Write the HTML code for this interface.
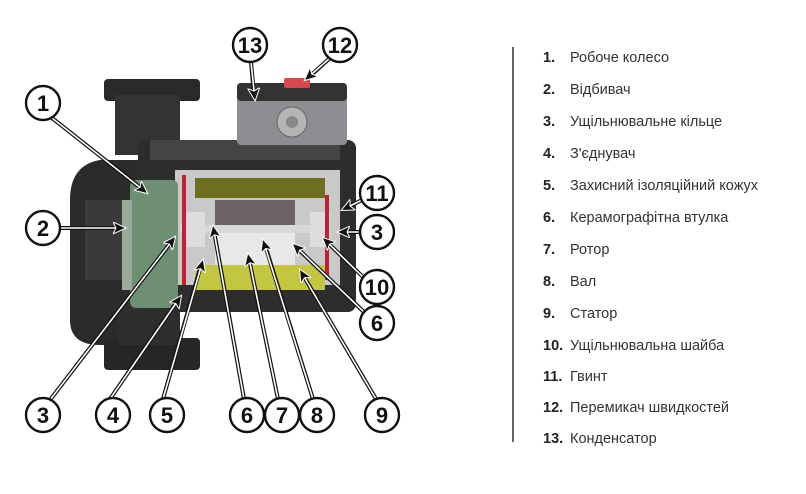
<!DOCTYPE html>
<html><head><meta charset="utf-8"><style>
html,body{margin:0;padding:0;background:#fff;width:806px;height:494px;overflow:hidden}
svg{display:block}
.lg{font-family:"Liberation Sans",sans-serif;font-size:14.5px;fill:#333}
.lg tspan.n{font-weight:bold;fill:#222}
.c circle{fill:#fff;stroke:#111;stroke-width:2.4}
.c text{font-family:"Liberation Sans",sans-serif;font-weight:bold;font-size:22px;fill:#111;text-anchor:middle}
</style></head><body>
<svg width="806" height="494" viewBox="0 0 806 494" xmlns="http://www.w3.org/2000/svg">
<defs>
<marker id="ah" markerWidth="14" markerHeight="14" refX="12" refY="6" orient="auto" markerUnits="userSpaceOnUse">
<path d="M0,0 L13,6 L0,12 L3,6 Z" fill="#111" stroke="#fff" stroke-width="1"/>
</marker>
</defs>
<!-- pump body -->
<rect x="104" y="79" width="96" height="22" rx="4" fill="#2a2a2a"/>
<rect x="115" y="95" width="65" height="60" fill="#333"/>
<path d="M100,160 Q70,165 70,200 L70,320 Q70,345 100,345 L145,345 L145,160 Z" fill="#2b2b2b"/>
<rect x="104" y="338" width="96" height="32" rx="4" fill="#262626"/>
<rect x="118" y="300" width="62" height="45" fill="#2e2e2e"/>
<rect x="85" y="200" width="45" height="80" fill="#3a3a3a"/>
<rect x="138" y="140" width="218" height="172" rx="8" fill="#2d2d2d"/>
<rect x="150" y="140" width="190" height="20" fill="#444"/>
<!-- terminal box -->
<rect x="237" y="83" width="110" height="62" rx="4" fill="#8e8e92"/>
<rect x="237" y="83" width="110" height="18" rx="4" fill="#333"/>
<circle cx="292" cy="122" r="15" fill="#b5b5b5" stroke="#666"/>
<circle cx="292" cy="122" r="6" fill="#888"/>
<rect x="284" y="78" width="26" height="10" rx="2" fill="#d9474f"/>
<!-- inner cavity -->
<rect x="175" y="170" width="165" height="115" fill="#c9c9c9"/>
<path d="M195,178 L325,178 L325,198 L195,198 Z" fill="#6e7020"/>
<path d="M195,265 L325,265 L325,290 L195,290 Z" fill="#c3c640"/>
<rect x="215" y="200" width="80" height="30" fill="#6a6264"/>
<rect x="215" y="230" width="80" height="35" fill="#e8e8e8"/>
<rect x="180" y="225" width="150" height="8" fill="#d8d8d8"/>
<rect x="185" y="212" width="20" height="35" fill="#ddd"/>
<rect x="310" y="212" width="20" height="35" fill="#ddd"/>
<rect x="182" y="175" width="4" height="110" fill="#c02030"/>
<rect x="325" y="195" width="4" height="85" fill="#c02030"/>
<!-- impeller -->
<rect x="130" y="180" width="48" height="128" rx="6" fill="#6f8f72"/>
<rect x="122" y="200" width="10" height="90" fill="#9aaa9c"/>
<!-- leaders -->
<g fill="none" stroke-linecap="round">
<g stroke="#111" stroke-width="4">
<path d="M52,118 L142,189"/><path d="M60,228 L120,228"/>
<path d="M251,62 L254,95"/><path d="M330,58 L309,77"/>
<path d="M362,200 L346,208"/><path d="M360,232 L343,232"/>
<path d="M364,278 L327,242"/><path d="M364,312 L297,248"/>
<path d="M376,399 L303,275"/><path d="M313,399 L265,245"/>
<path d="M278,399 L249,259"/><path d="M244,399 L214,231"/>
<path d="M163,399 L201,265"/><path d="M110,399 L178,300"/>
<path d="M50,400 L172,241"/>
</g>
<g stroke="#fff" stroke-width="1.6">
<path d="M52,118 L147,193" marker-end="url(#ah)"/><path d="M60,228 L125,228" marker-end="url(#ah)"/>
<path d="M251,62 L255,100" marker-end="url(#ah)"/><path d="M330,58 L305,80" marker-end="url(#ah)"/>
<path d="M362,200 L342,210" marker-end="url(#ah)"/><path d="M360,232 L338,232" marker-end="url(#ah)"/>
<path d="M364,278 L323,238" marker-end="url(#ah)"/><path d="M364,312 L293,244" marker-end="url(#ah)"/>
<path d="M376,399 L300,270" marker-end="url(#ah)"/><path d="M313,399 L263,240" marker-end="url(#ah)"/>
<path d="M278,399 L248,254" marker-end="url(#ah)"/><path d="M244,399 L213,226" marker-end="url(#ah)"/>
<path d="M163,399 L203,260" marker-end="url(#ah)"/><path d="M110,399 L181,296" marker-end="url(#ah)"/>
<path d="M50,400 L175,237" marker-end="url(#ah)"/>
</g>
</g>
<g class="c">
<circle cx="250" cy="45" r="17"/><text x="250" y="53">13</text>
<circle cx="340" cy="45" r="17"/><text x="340" y="53">12</text>
<circle cx="43" cy="103" r="17"/><text x="43" y="111">1</text>
<circle cx="43" cy="228" r="17"/><text x="43" y="236">2</text>
<circle cx="377" cy="193" r="17"/><text x="377" y="201">11</text>
<circle cx="377" cy="232" r="17"/><text x="377" y="240">3</text>
<circle cx="377" cy="287" r="17"/><text x="377" y="295">10</text>
<circle cx="377" cy="323" r="17"/><text x="377" y="331">6</text>
<circle cx="43" cy="415" r="17"/><text x="43" y="423">3</text>
<circle cx="113" cy="415" r="17"/><text x="113" y="423">4</text>
<circle cx="167" cy="415" r="17"/><text x="167" y="423">5</text>
<circle cx="247" cy="415" r="17"/><text x="247" y="423">6</text>
<circle cx="282" cy="415" r="17"/><text x="282" y="423">7</text>
<circle cx="317" cy="415" r="17"/><text x="317" y="423">8</text>
<circle cx="382" cy="415" r="17"/><text x="382" y="423">9</text>
</g>
<!-- legend -->
<line x1="513" y1="47" x2="513" y2="442" stroke="#333" stroke-width="1.5"/>
<g class="lg">
<text x="543" y="62"><tspan class="n">1.</tspan><tspan x="570">Робоче колесо</tspan></text>
<text x="543" y="94"><tspan class="n">2.</tspan><tspan x="570">Відбивач</tspan></text>
<text x="543" y="126"><tspan class="n">3.</tspan><tspan x="570">Ущільнювальне кільце</tspan></text>
<text x="543" y="158"><tspan class="n">4.</tspan><tspan x="570">З'єднувач</tspan></text>
<text x="543" y="190"><tspan class="n">5.</tspan><tspan x="570">Захисний ізоляційний кожух</tspan></text>
<text x="543" y="222"><tspan class="n">6.</tspan><tspan x="570">Керамографітна втулка</tspan></text>
<text x="543" y="254"><tspan class="n">7.</tspan><tspan x="570">Ротор</tspan></text>
<text x="543" y="286"><tspan class="n">8.</tspan><tspan x="570">Вал</tspan></text>
<text x="543" y="318"><tspan class="n">9.</tspan><tspan x="570">Статор</tspan></text>
<text x="543" y="350"><tspan class="n">10.</tspan><tspan x="570">Ущільнювальна шайба</tspan></text>
<text x="543" y="381"><tspan class="n">11.</tspan><tspan x="570">Гвинт</tspan></text>
<text x="543" y="412"><tspan class="n">12.</tspan><tspan x="570">Перемикач швидкостей</tspan></text>
<text x="543" y="443"><tspan class="n">13.</tspan><tspan x="570">Конденсатор</tspan></text>
</g>
</svg>
</body></html>
